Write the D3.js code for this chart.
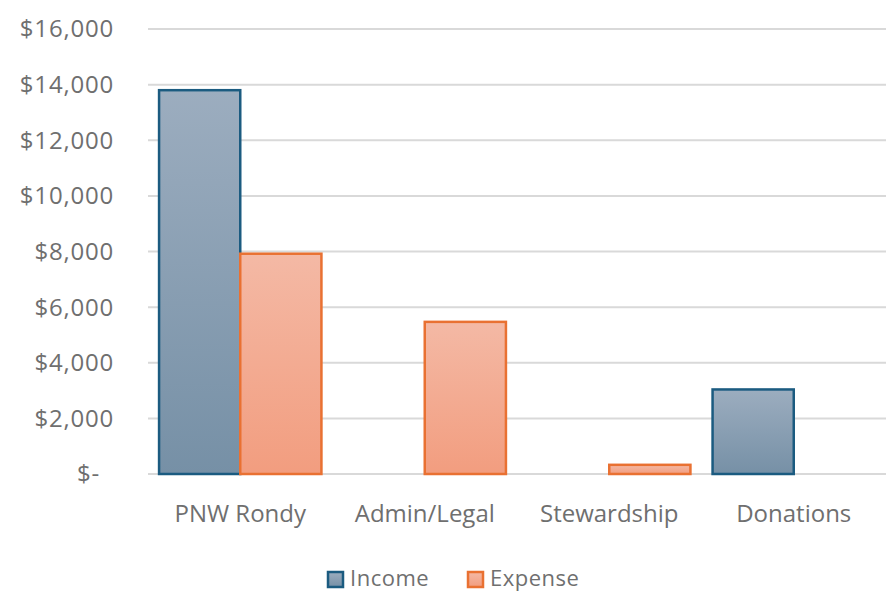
<!DOCTYPE html>
<html>
<head>
<meta charset="utf-8">
<script src="https://cdn.jsdelivr.net/npm/d3@7"></script>
<style>
body { margin: 0; background: #fff; }
text { font-family: "Open Sans", "Noto Sans", sans-serif; fill: #6f6f6f; font-size: 24px; }
</style>
</head>
<body>
<svg id="chart" width="886" height="592"></svg>
<script>
var categories = ["PNW Rondy", "Admin/Legal", "Stewardship", "Donations"];
var seriesNames = ["Income", "Expense"];
var income = [13800, 0, 0, 3040];
var expense = [7920, 5470, 330, 0];
var yTicks = [0, 2000, 4000, 6000, 8000, 10000, 12000, 14000, 16000];

var svg = d3.select("#chart");
var plotLeft = 148, plotRight = 886, plotTop = 29, plotBottom = 474;

var x = d3.scaleBand().domain(categories).range([plotLeft, plotRight]).paddingInner(0.12).paddingOuter(0.06);
var xs = d3.scaleBand().domain(seriesNames).range([0, x.bandwidth()]);
var y = d3.scaleLinear().domain([0, 16000]).range([plotBottom, plotTop]);

var defs = svg.append("defs");
function grad(id, c1, c2) {
	var g = defs.append("linearGradient").attr("id", id)
	.attr("x1", 0).attr("y1", 0).attr("x2", 0).attr("y2", 1);
	g.append("stop").attr("offset", "0%").attr("stop-color", c1);
	g.append("stop").attr("offset", "100%").attr("stop-color", c2);
}
grad("gInc", "#9cadbf", "#7690a6");
grad("gExp", "#f4b9a5", "#f29d7f");

var fills = { Income: "url(#gInc)", Expense: "url(#gExp)" };
var strokes = { Income: "#1b5b80", Expense: "#e97132" };

// gridlines
svg.append("g").selectAll("line").data(yTicks).enter().append("line")
.attr("x1", plotLeft).attr("x2", plotRight)
.attr("y1", function (d) { return y(d); })
.attr("y2", function (d) { return y(d); })
.style("stroke", "#d9d9d9").style("stroke-width", 2);

// y labels
var fmt = d3.format(",");
svg.append("g").selectAll("text").data(yTicks).enter().append("text")
.attr("x", function (d) { return d === 0 ? 100 : 114; })
.attr("y", function (d) { return y(d); })
.attr("dy", "0.35em")
.style("text-anchor", "end")
.style("letter-spacing", "0.8px")
.text(function (d) { return d === 0 ? "$-" : "$" + fmt(d); });

// bars
var rows = [];
categories.forEach(function (c, i) {
	rows.push({ cat: c, s: "Income", v: income[i] });
	rows.push({ cat: c, s: "Expense", v: expense[i] });
});

svg.append("g").selectAll("rect").data(rows.filter(function (d) { return d.v > 0; }))
.enter().append("rect")
.attr("x", function (d) { return x(d.cat) + xs(d.s); })
.attr("y", function (d) { return y(d.v); })
.attr("width", xs.bandwidth())
.attr("height", function (d) { return y(0) - y(d.v); })
.style("fill", function (d) { return fills[d.s]; })
.style("stroke", function (d) { return strokes[d.s]; })
.style("stroke-width", 2.5);

// x labels
svg.append("g").selectAll("text").data(categories).enter().append("text")
.attr("x", function (d) { return x(d) + x.bandwidth() / 2; })
.attr("y", 514)
.attr("dy", "0.35em")
.style("text-anchor", "middle")
.text(function (d) { return d; });

// legend
var legend = svg.append("g");
var legX = [328, 468];
seriesNames.forEach(function (s, i) {
	legend.append("rect")
	.attr("x", legX[i]).attr("y", 572)
	.attr("width", 15).attr("height", 15)
	.style("fill", fills[s]).style("stroke", strokes[s]).style("stroke-width", 2.5);
	legend.append("text")
	.attr("x", legX[i] + 22).attr("y", 578)
	.attr("dy", "0.35em")
	.style("font-size", "22px")
	.style("letter-spacing", "0.5px")
	.text(s);
});
</script>
</body>
</html>
